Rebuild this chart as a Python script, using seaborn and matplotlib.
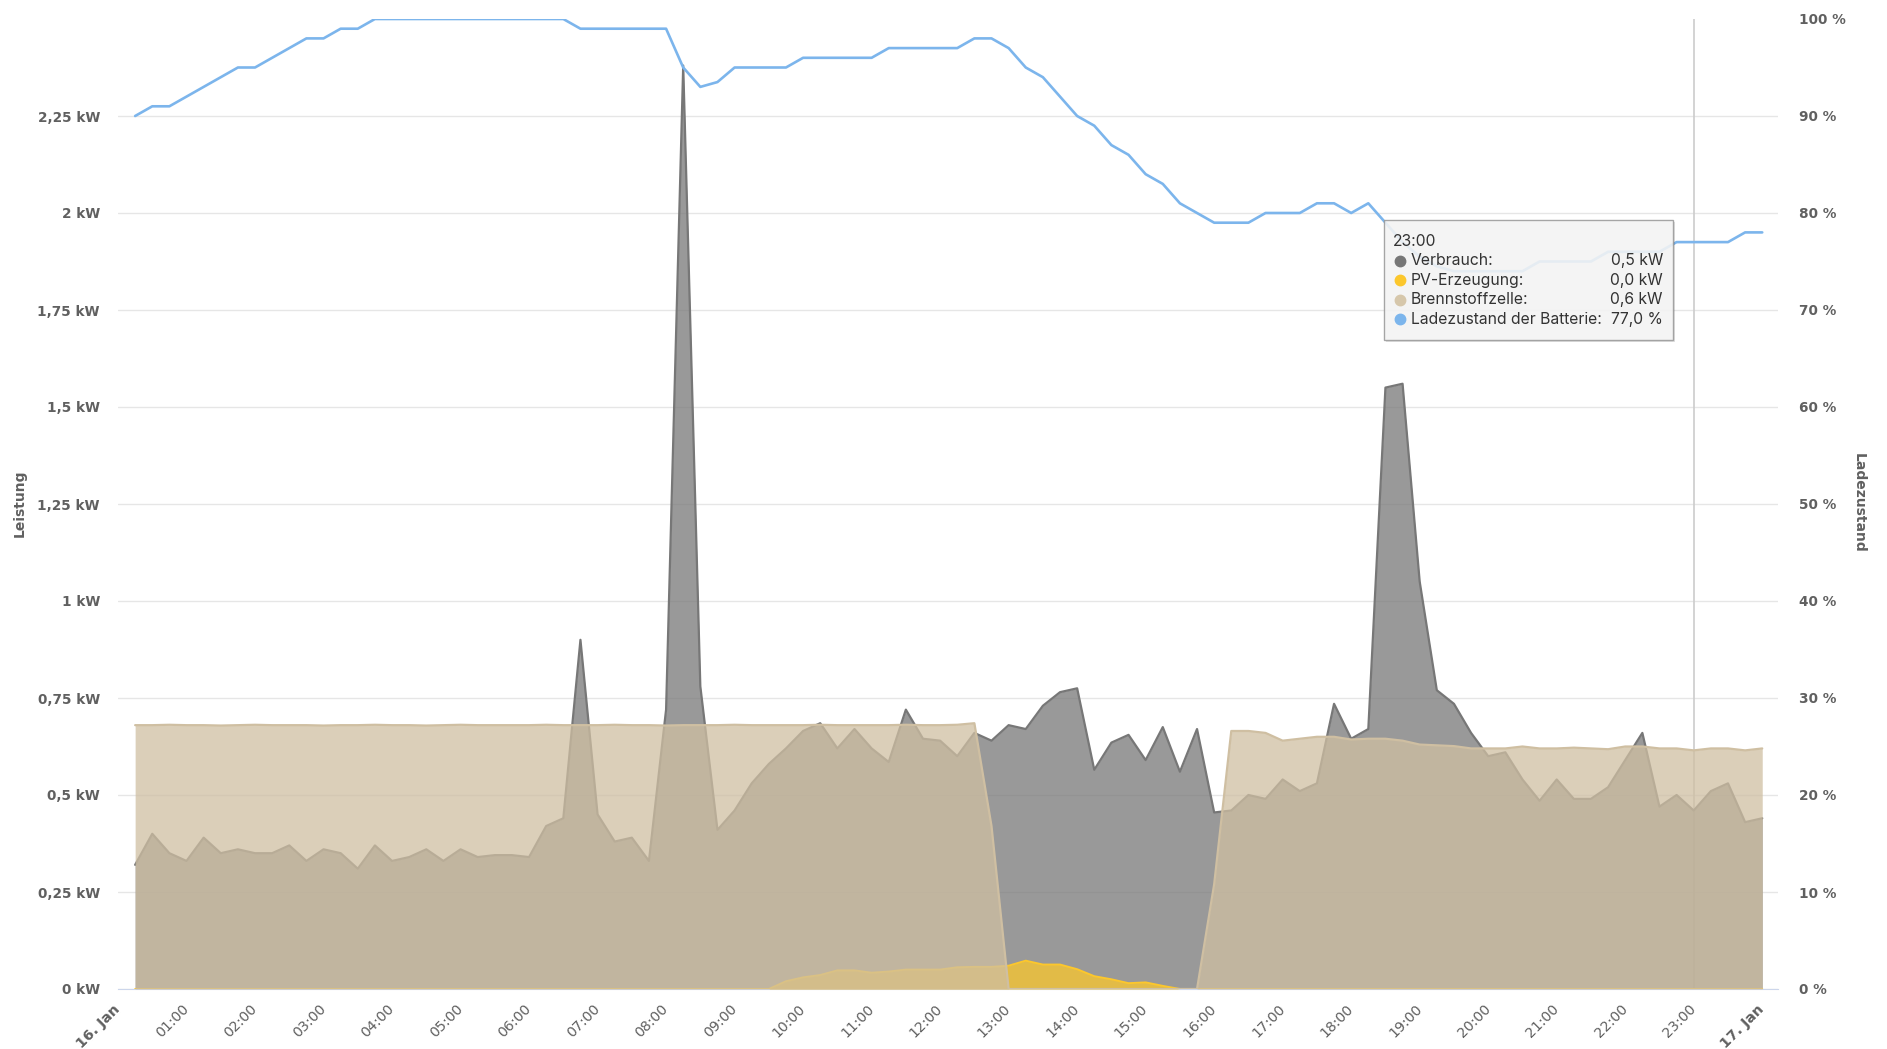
import numpy as np
import pandas as pd
import seaborn as sns
import matplotlib.pyplot as plt
from matplotlib.lines import Line2D
from matplotlib.patches import Rectangle

# 15-min values, 00:15 .. 24:00 (hours)
stunden = np.arange(1, 97) * 0.25

verbrauch = [0.32, 0.40, 0.35, 0.33, 0.39, 0.35, 0.36, 0.35,
             0.35, 0.37, 0.33, 0.36, 0.35, 0.31, 0.37, 0.33,
             0.34, 0.36, 0.33, 0.36, 0.34, 0.345, 0.345, 0.34,
             0.42, 0.44, 0.90, 0.45, 0.38, 0.39, 0.33, 0.72,
             2.38, 0.78, 0.41, 0.46, 0.53, 0.58, 0.62, 0.665,
             0.685, 0.62, 0.67, 0.62, 0.585, 0.72, 0.645, 0.64,
             0.60, 0.66, 0.64, 0.68, 0.67, 0.73, 0.765, 0.775,
             0.565, 0.635, 0.655, 0.59, 0.675, 0.56, 0.67, 0.455,
             0.46, 0.50, 0.49, 0.54, 0.51, 0.53, 0.735, 0.645,
             0.67, 1.55, 1.56, 1.05, 0.77, 0.735, 0.66, 0.60,
             0.61, 0.54, 0.485, 0.54, 0.49, 0.49, 0.52, 0.59,
             0.66, 0.47, 0.50, 0.46, 0.51, 0.53, 0.43, 0.44]

pv_erzeugung = [0, 0, 0, 0, 0, 0, 0, 0,
                0, 0, 0, 0, 0, 0, 0, 0,
                0, 0, 0, 0, 0, 0, 0, 0,
                0, 0, 0, 0, 0, 0, 0, 0,
                0, 0, 0, 0, 0, 0, 0.02, 0.03,
                0.036, 0.048, 0.048, 0.042, 0.045, 0.05, 0.05, 0.05,
                0.056, 0.057, 0.057, 0.06, 0.073, 0.063, 0.063, 0.051,
                0.033, 0.025, 0.015, 0.017, 0.008, 0, 0, 0,
                0, 0, 0, 0, 0, 0, 0, 0,
                0, 0, 0, 0, 0, 0, 0, 0,
                0, 0, 0, 0, 0, 0, 0, 0,
                0, 0, 0, 0, 0, 0, 0, 0]

brennstoffzelle = [0.68, 0.68, 0.681, 0.68, 0.68, 0.679, 0.68, 0.681,
                   0.68, 0.68, 0.68, 0.679, 0.68, 0.68, 0.681, 0.68,
                   0.68, 0.679, 0.68, 0.681, 0.68, 0.68, 0.68, 0.68,
                   0.681, 0.68, 0.68, 0.68, 0.681, 0.68, 0.68, 0.679,
                   0.68, 0.68, 0.68, 0.681, 0.68, 0.68, 0.68, 0.68,
                   0.681, 0.68, 0.68, 0.68, 0.68, 0.681, 0.68, 0.68,
                   0.681, 0.685, 0.42, 0, 0, 0, 0, 0,
                   0, 0, 0, 0, 0, 0, 0, 0.27,
                   0.665, 0.665, 0.66, 0.64, 0.645, 0.65, 0.65, 0.643,
                   0.645, 0.645, 0.64, 0.63, 0.628, 0.626, 0.62, 0.62,
                   0.62, 0.625, 0.62, 0.62, 0.622, 0.62, 0.618, 0.625,
                   0.625, 0.62, 0.62, 0.615, 0.62, 0.62, 0.615, 0.62]

ladezustand = [90, 91, 91, 92, 93, 94, 95, 95,
               96, 97, 98, 98, 99, 99, 100, 100,
               100, 100, 100, 100, 100, 100, 100, 100,
               100, 100, 99, 99, 99, 99, 99, 99,
               95, 93, 93.5, 95, 95, 95, 95, 96,
               96, 96, 96, 96, 97, 97, 97, 97,
               97, 98, 98, 97, 95, 94, 92, 90,
               89, 87, 86, 84, 83, 81, 80, 79,
               79, 79, 80, 80, 80, 81, 81, 80,
               81, 79, 77, 75.5, 74.5, 74, 74, 74,
               74, 74, 75, 75, 75, 75, 76, 76,
               76, 76, 77, 77, 77, 77, 78, 78]

kw_ticks = [0, 0.25, 0.5, 0.75, 1.0, 1.25, 1.5, 1.75, 2.0, 2.25]
kw_labels = ["0 kW", "0,25 kW", "0,5 kW", "0,75 kW", "1 kW", "1,25 kW",
             "1,5 kW", "1,75 kW", "2 kW", "2,25 kW"]
pct_ticks = [0, 10, 20, 30, 40, 50, 60, 70, 80, 90, 100]
hour_labels = ["16. Jan"] + [f"{h:02d}:00" for h in range(1, 24)] + ["17. Jan"]

df = pd.DataFrame({"stunde": stunden, "verbrauch": verbrauch,
                   "pv": pv_erzeugung, "bz": brennstoffzelle,
                   "soc": ladezustand})

c_verbrauch = "#777777"
c_pv = "#fcc72c"
c_bz = "#cfbfa2"
c_soc = "#7cb5ec"
c_text = "#606060"

sns.set_style("white")
plt.rcParams["font.family"] = ["DejaVu Sans"]

W, H = 1887, 1049
fig = plt.figure(figsize=(W / 100, H / 100), dpi=100)
ax = fig.add_axes([118 / W, 1 - 989 / H, 1660 / W, 970 / H])

ax.axvline(23, color="#cccccc", lw=1.2, zorder=1.5)

ax.fill_between(df["stunde"], df["verbrauch"], color=c_verbrauch, alpha=0.75, lw=0, zorder=2)
sns.lineplot(data=df, x="stunde", y="verbrauch", ax=ax, color=c_verbrauch, lw=1.6, zorder=2.1)
ax.fill_between(df["stunde"], df["pv"], color=c_pv, alpha=0.75, lw=0, zorder=3)
sns.lineplot(data=df, x="stunde", y="pv", ax=ax, color=c_pv, lw=1.4, zorder=3.1)
ax.fill_between(df["stunde"], df["bz"], color=c_bz, alpha=0.75, lw=0, zorder=4)
sns.lineplot(data=df, x="stunde", y="bz", ax=ax, color=c_bz, lw=1.6, zorder=4.1)

ax.set_xlim(0, 24.23)
ax.set_ylim(0, 2.5)
ax.set_yticks(kw_ticks)
ax.set_yticklabels(kw_labels, fontsize=9.8, fontweight="bold", color=c_text)
ax.set_xticks(range(25))
ax.set_xticklabels(hour_labels, rotation=45, ha="right", va="center",
                   rotation_mode="anchor", fontsize=10.2, color=c_text)
for i in (0, 24):
    ax.get_xticklabels()[i].set_fontweight("bold")
ax.tick_params(axis="x", length=9, width=1, color="#ccd6eb", pad=4)
ax.tick_params(axis="y", length=0, pad=13)
ax.yaxis.grid(True, color="#e6e6e6", lw=1)
ax.set_axisbelow(True)
for s in ("top", "left", "right"):
    ax.spines[s].set_visible(False)
ax.spines["bottom"].set_color("#ccd6eb")
ax.set_xlabel("")
ax.set_ylabel("")

ax2 = ax.twinx()
sns.lineplot(data=df, x="stunde", y="soc", ax=ax2, color=c_soc, lw=1.9, zorder=5)
ax2.set_ylim(0, 100)
ax2.set_yticks(pct_ticks)
ax2.set_yticklabels([f"{p} %" for p in pct_ticks], fontsize=9.8, fontweight="bold", color=c_text)
ax2.tick_params(axis="y", length=0, pad=15)
for s in ax2.spines.values():
    s.set_visible(False)
ax2.set_xlabel("")
ax2.set_ylabel("")

fig.text(20 / W, 1 - 503 / H, "Leistung", rotation=90, ha="center", va="center",
         fontsize=10, fontweight="bold", color=c_text)
fig.text(1859 / W, 1 - 503 / H, "Ladezustand", rotation=270, ha="center", va="center",
         fontsize=10, fontweight="bold", color=c_text)


def fx(x):
    return x / W


def fy(y):
    return 1 - y / H


# tooltip
x0, y0, x1, y1 = 1384, 220, 1673, 340
fig.add_artist(Rectangle((fx(x0 + 2), fy(y1 + 2)), (x1 - x0) / W, (y1 - y0) / H,
                         transform=fig.transFigure, facecolor="#000000", alpha=0.12,
                         lw=0, zorder=10))
fig.add_artist(Rectangle((fx(x0), fy(y1)), (x1 - x0) / W, (y1 - y0) / H,
                         transform=fig.transFigure, facecolor="#f7f7f7", alpha=0.88,
                         edgecolor="#999999", lw=1, zorder=11))
tt_font = ["Inter", "DejaVu Sans"]
fig.text(fx(1393), fy(241), "23:00", ha="left", va="center", fontsize=11.3,
         color="#333333", family=tt_font, zorder=12)
rows = [("Verbrauch:", "0,5 kW", c_verbrauch),
        ("PV-Erzeugung:", "0,0 kW", c_pv),
        ("Brennstoffzelle:", "0,6 kW", "#d6c7ab"),
        ("Ladezustand der Batterie:", "77,0 %", c_soc)]
for k, (lab, val, col) in enumerate(rows):
    yy = 261 + k * 19.5
    fig.add_artist(Line2D([fx(1400)], [fy(yy)], marker="o", markersize=7.5,
                          color=col, transform=fig.transFigure, zorder=12))
    fig.text(fx(1411), fy(yy), lab, ha="left", va="center", fontsize=11.3,
             color="#333333", family=tt_font, zorder=12)
    fig.text(fx(1663), fy(yy), val, ha="right", va="center", fontsize=11.3,
             color="#333333", family=tt_font, zorder=12)

fig.savefig("out.png", dpi=100)
